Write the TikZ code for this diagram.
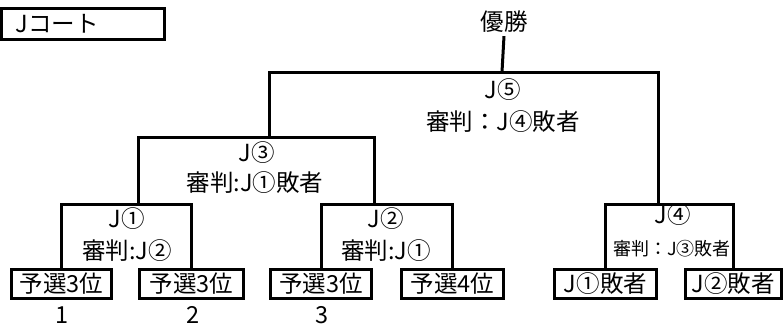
\documentclass[tikz,border=0pt]{standalone}
\usepackage{fontspec}
\setmainfont{Noto Sans CJK JP}
\begin{document}
\begin{tikzpicture}[x=1pt,y=-1pt,
  line/.style={line width=3pt},
  big/.style={font=\fontsize{23.5}{25}\selectfont},
  small/.style={font=\fontsize{18}{20}\selectfont},
  lbl/.style={big, inner sep=0pt},
  entry/.style={draw, line width=3pt, big, inner sep=0pt, minimum height=29pt},
  hdrbox/.style={draw, line width=3pt, big, inner ysep=0pt, inner xsep=14pt,
    text width=135pt, align=left, minimum height=31pt}
  ]
\useasboundingbox (0,0) rectangle (784,327);

% header
\node[hdrbox] (hdr) at (83,24) {Jコート};

% winner
\node[lbl] (win) at (504,22) {優勝};

% entry boxes
\node[entry, minimum width=100pt] (b1) at (61.5,284) {予選3位};
\node[entry, minimum width=104pt] (b2) at (191.5,284) {予選3位};
\node[entry, minimum width=101pt] (b3) at (321,284) {予選3位};
\node[entry, minimum width=102pt] (b4) at (452.5,284) {予選4位};
\node[entry, minimum width=102pt] (b5) at (605.5,284) {J①敗者};
\node[entry, minimum width=96pt] (b6) at (733,284) {J②敗者};

% seed numbers
\node[lbl] (n1) at (62,315) {1};
\node[lbl] (n2) at (193,315) {2};
\node[lbl] (n3) at (322,315) {3};

% junction coordinates
\coordinate (c1) at (138,204);
\coordinate (c2) at (374,204);
\coordinate (c4) at (658,204);
\coordinate (c3) at (269,137);
\coordinate (c5) at (502,72);

% bracket lines
\draw[line] (b1.north) |- (c1) -| (b2.north);
\draw[line] (b3.north) |- (c2) -| (b4.north);
\draw[line] (b5.north) |- (c4) -| (b6.north);
\draw[line] (c1) |- (c3) -| (c2);
\draw[line] (c3) |- (c5) -| (c4);
\draw[line] (c5) -- ([yshift=-3pt]win.south);

% match labels
\node[lbl] (m1) at (127,219) {J①};
\node[lbl] (r1) at (127,251) {審判:J②};
\node[lbl] (m2) at (386,219) {J②};
\node[lbl] (r2) at (386,251) {審判:J①};
\node[lbl] (m3) at (257,153) {J③};
\node[lbl] (r3) at (255,183) {審判:J①敗者};
\node[lbl] (m5) at (503,90) {J⑤};
\node[lbl] (r5) at (503,122) {審判：J④敗者};
\node[lbl] (m4) at (673,215) {J④};
\node[lbl, small] (r4) at (672,249) {審判：J③敗者};
\end{tikzpicture}
\end{document}
